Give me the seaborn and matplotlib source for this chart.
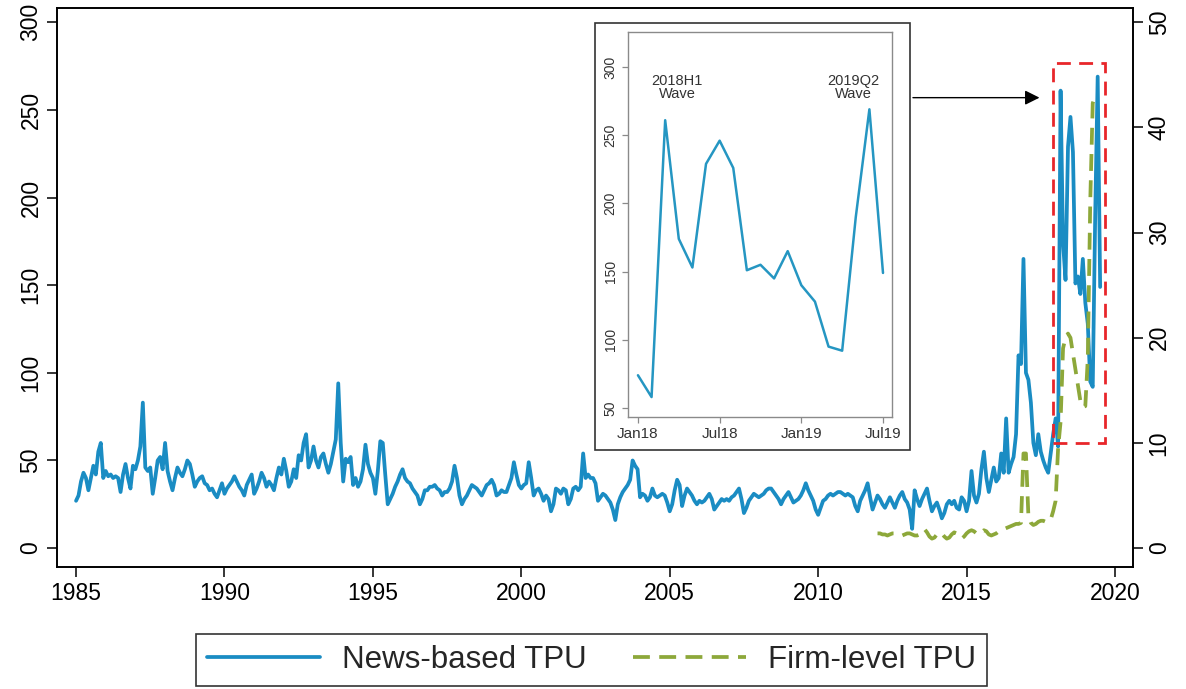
import numpy as np
import pandas as pd
import matplotlib
matplotlib.use("Agg")
import matplotlib.pyplot as plt
from matplotlib.patches import Rectangle
from matplotlib.lines import Line2D
import seaborn as sns

# ---------------- data ----------------
news_1985_2017 = {
    1985: [27, 30, 38, 43, 40, 33, 40, 47, 42, 55, 60, 40],
    1986: [44, 41, 42, 40, 41, 40, 32, 42, 48, 40, 34, 47],
    1987: [45, 50, 58, 83, 46, 44, 46, 31, 40, 50, 52, 45],
    1988: [60, 44, 38, 33, 40, 46, 43, 41, 45, 50, 48, 42],
    1989: [35, 38, 40, 41, 37, 36, 33, 34, 31, 29, 33, 37],
    1990: [31, 34, 36, 38, 41, 38, 35, 33, 30, 36, 39, 42],
    1991: [31, 34, 38, 43, 40, 35, 38, 36, 33, 40, 46, 42],
    1992: [51, 44, 35, 38, 45, 40, 53, 50, 60, 65, 46, 50],
    1993: [58, 50, 46, 52, 54, 48, 43, 48, 55, 62, 94, 60],
    1994: [38, 51, 49, 52, 36, 40, 35, 38, 45, 59, 48, 43],
    1995: [40, 31, 44, 61, 60, 42, 25, 28, 31, 35, 38, 42],
    1996: [45, 40, 38, 37, 34, 32, 30, 25, 28, 33, 33, 35],
    1997: [35, 36, 34, 33, 30, 32, 32, 34, 38, 47, 40, 30],
    1998: [25, 28, 30, 33, 36, 35, 34, 32, 30, 33, 36, 37],
    1999: [39, 36, 30, 31, 33, 32, 32, 36, 40, 49, 42, 36],
    2000: [34, 36, 37, 49, 40, 30, 33, 34, 31, 27, 30, 28],
    2001: [21, 25, 34, 33, 31, 34, 33, 25, 28, 34, 35, 33],
    2002: [35, 54, 40, 42, 40, 40, 37, 27, 29, 31, 30, 28],
    2003: [26, 22, 16, 25, 29, 32, 34, 36, 39, 50, 47, 45],
    2004: [29, 31, 30, 27, 29, 34, 30, 29, 30, 31, 30, 26],
    2005: [21, 25, 33, 39, 36, 24, 30, 34, 32, 30, 27, 25],
    2006: [27, 26, 27, 29, 31, 28, 22, 24, 26, 28, 27, 28],
    2007: [27, 29, 30, 32, 34, 28, 20, 23, 27, 29, 31, 30],
    2008: [29, 30, 31, 33, 34, 34, 32, 30, 28, 25, 28, 30],
    2009: [32, 29, 26, 27, 28, 30, 33, 37, 33, 30, 27, 22],
    2010: [19, 23, 27, 28, 30, 31, 30, 31, 32, 32, 31, 30],
    2011: [31, 30, 29, 24, 21, 27, 30, 33, 37, 29, 22, 26],
    2012: [30, 28, 25, 23, 26, 29, 26, 23, 27, 30, 32, 28],
    2013: [26, 22, 11, 33, 28, 24, 28, 31, 34, 27, 21, 24],
    2014: [26, 22, 17, 20, 25, 27, 25, 27, 23, 22, 29, 27],
    2015: [21, 27, 44, 30, 26, 31, 45, 55, 40, 32, 39, 46],
    2016: [38, 40, 54, 43, 74, 43, 48, 52, 65, 110, 105, 165],
    2017: [100, 96, 83, 60, 53, 65, 55, 50, 46, 43, 54, 65],
}
# Jan 2018 - Jul 2019 (also shown in the inset)
news_2018_2019 = [74, 58, 261, 174, 153, 229, 246, 226, 151, 155, 145, 165,
                  140, 128, 95, 92, 190, 269, 149]

# Firm-level TPU, monthly from Jan 2012 (right axis)
firm_tpu = {
    2012: [1.4, 1.4, 1.3, 1.3, 1.2, 1.3, 1.4, 1.4, 1.3, 1.2, 1.2, 1.3],
    2013: [1.4, 1.4, 1.3, 1.2, 1.2, 1.3, 1.6, 1.8, 1.5, 1.1, 0.9, 1.0],
    2014: [1.3, 1.5, 1.4, 1.1, 0.9, 1.0, 1.3, 1.5, 1.4, 1.1, 0.9, 1.1],
    2015: [1.4, 1.6, 1.7, 1.6, 1.4, 1.3, 1.5, 1.7, 1.6, 1.3, 1.2, 1.3],
    2016: [1.4, 1.6, 1.7, 1.8, 1.9, 2.0, 2.1, 2.2, 2.3, 2.3, 2.4, 9.0],
    2017: [9.0, 3.0, 2.4, 2.2, 2.3, 2.5, 2.6, 2.6, 2.5, 2.5, 2.7, 3.5],
    2018: [4.5, 9.5, 12.0, 19.0, 20.0, 20.4, 20.0, 18.5, 17.0, 15.5, 14.0, 13.4],
    2019: [13.5, 18.0, 33.0, 42.3, 43.0],
}

main_xticks = [1985, 1990, 1995, 2000, 2005, 2010, 2015, 2020]
left_yticks = [0, 50, 100, 150, 200, 250, 300]
right_yticks = [0, 10, 20, 30, 40, 50]
inset_xticks = [2018.0, 2018.5, 2019.0, 2019.5]
inset_xlabels = ["Jan18", "Jul18", "Jan19", "Jul19"]
inset_yticks = [50, 100, 150, 200, 250, 300]
legend_labels = ["News-based TPU", "Firm-level TPU"]

# ---------------- build tidy frames ----------------
rows = []
for yr, vals in news_1985_2017.items():
    for m, v in enumerate(vals):
        rows.append((yr + m / 12.0, v))
for i, v in enumerate(news_2018_2019):
    rows.append((2018 + i / 12.0, v))
df_news = pd.DataFrame(rows, columns=["year", "tpu"])
df_inset = pd.DataFrame({"year": [2018 + i / 12.0 for i in range(len(news_2018_2019))],
                         "tpu": news_2018_2019})
rows = []
for yr, vals in firm_tpu.items():
    for m, v in enumerate(vals):
        rows.append((yr + m / 12.0, v))
df_firm = pd.DataFrame(rows, columns=["year", "tpu"])

# ---------------- style ----------------
sns.set_theme(style="ticks")
plt.rcParams["font.family"] = ["Liberation Sans", "DejaVu Sans"]

BLUE = "#1a8cc3"
GREEN = "#8da83a"
DASH = (0, (4.5, 2.5))
LW = 2.7

fig = plt.figure(figsize=(11.86, 6.89), dpi=100)
ax = fig.add_axes([0.0481, 0.177, 0.9073, 0.811])

sns.lineplot(data=df_news, x="year", y="tpu", ax=ax, color=BLUE, lw=LW,
             estimator=None, legend=False)
ax.set_xlim(1984.36, 2020.61)
ax.set_ylim(-10.8, 308)
ax.set_xticks(main_xticks)
ax.set_yticks(left_yticks)
ax.set_xlabel("")
ax.set_ylabel("")
for s in ax.spines.values():
    s.set_visible(True)
    s.set_color("black")
    s.set_linewidth(1.2)
ax.tick_params(axis="both", direction="out", length=7, width=1.1, labelsize=16.5,
               colors="black")
ax.tick_params(axis="y", labelrotation=90)
for lab in ax.get_yticklabels():
    lab.set_va("center")

ax2 = ax.twinx()
sns.lineplot(data=df_firm, x="year", y="tpu", ax=ax2, color=GREEN, lw=LW,
             estimator=None, legend=False)
ax2.lines[-1].set_linestyle(DASH)
ax2.set_ylim(-1.8, 51.33)
ax2.set_yticks(right_yticks)
ax2.set_ylabel("")
ax2.tick_params(axis="y", direction="out", length=7, width=1.1, labelsize=16.5,
                colors="black", labelrotation=90)
for lab in ax2.get_yticklabels():
    lab.set_va("center")
for s in ax2.spines.values():
    s.set_color("black")
    s.set_linewidth(1.2)

# red dashed box around 2018-2019
ax.add_patch(Rectangle((2017.91, 60), 1.75, 217, fill=False, edgecolor="#e8262a",
                       lw=2.0, linestyle=(0, (5, 3)), zorder=5))

# arrow from inset to the red box
ax.annotate("", xy=(2017.55, 257), xytext=(2013.1, 257),
            arrowprops=dict(arrowstyle="-|>", color="black", lw=1.0,
                            mutation_scale=22), zorder=6)

# inset outer frame
fig.add_artist(Rectangle((0.5017, 0.3469), 0.2656, 0.6197, transform=fig.transFigure,
                         facecolor="white", edgecolor="#333333", lw=1.2, zorder=2))

axin = fig.add_axes([0.5295, 0.3948, 0.2226, 0.5588], zorder=3)
sns.lineplot(data=df_inset, x="year", y="tpu", ax=axin, color="#2596c2", lw=1.8,
             estimator=None, legend=False)
axin.set_xlim(2017.939, 2019.555)
axin.set_ylim(43.4, 325.7)
axin.set_xticks(inset_xticks)
axin.set_xticklabels(inset_xlabels)
axin.set_yticks(inset_yticks)
axin.set_xlabel("")
axin.set_ylabel("")
for s in axin.spines.values():
    s.set_visible(True)
    s.set_color("#8a8a8a")
    s.set_linewidth(1.0)
axin.tick_params(axis="both", direction="out", length=4, width=0.9, labelsize=11,
                 colors="#333333")
axin.tick_params(axis="both", color="#8a8a8a")
axin.tick_params(axis="y", labelrotation=90, labelsize=10)
for lab in axin.get_yticklabels():
    lab.set_va("center")
axin.text(2018.24, 285, "2018H1\nWave", ha="center", va="center", fontsize=10.5,
          color="#333333", linespacing=0.9)
axin.text(2019.32, 285, "2019Q2\nWave", ha="center", va="center", fontsize=10.5,
          color="#333333", linespacing=0.9)

# legend
handles = [Line2D([], [], color=BLUE, lw=LW),
           Line2D([], [], color=GREEN, lw=LW, linestyle=DASH)]
leg = fig.legend(handles, legend_labels, loc="center", bbox_to_anchor=(0.4987, 0.042),
                 ncol=2, frameon=True, fancybox=False, edgecolor="black",
                 fontsize=22.5, handlelength=3.6, columnspacing=1.5,
                 handletextpad=0.7, borderpad=0.35)
leg.get_frame().set_linewidth(1.2)

fig.savefig("out.png", dpi=100)
